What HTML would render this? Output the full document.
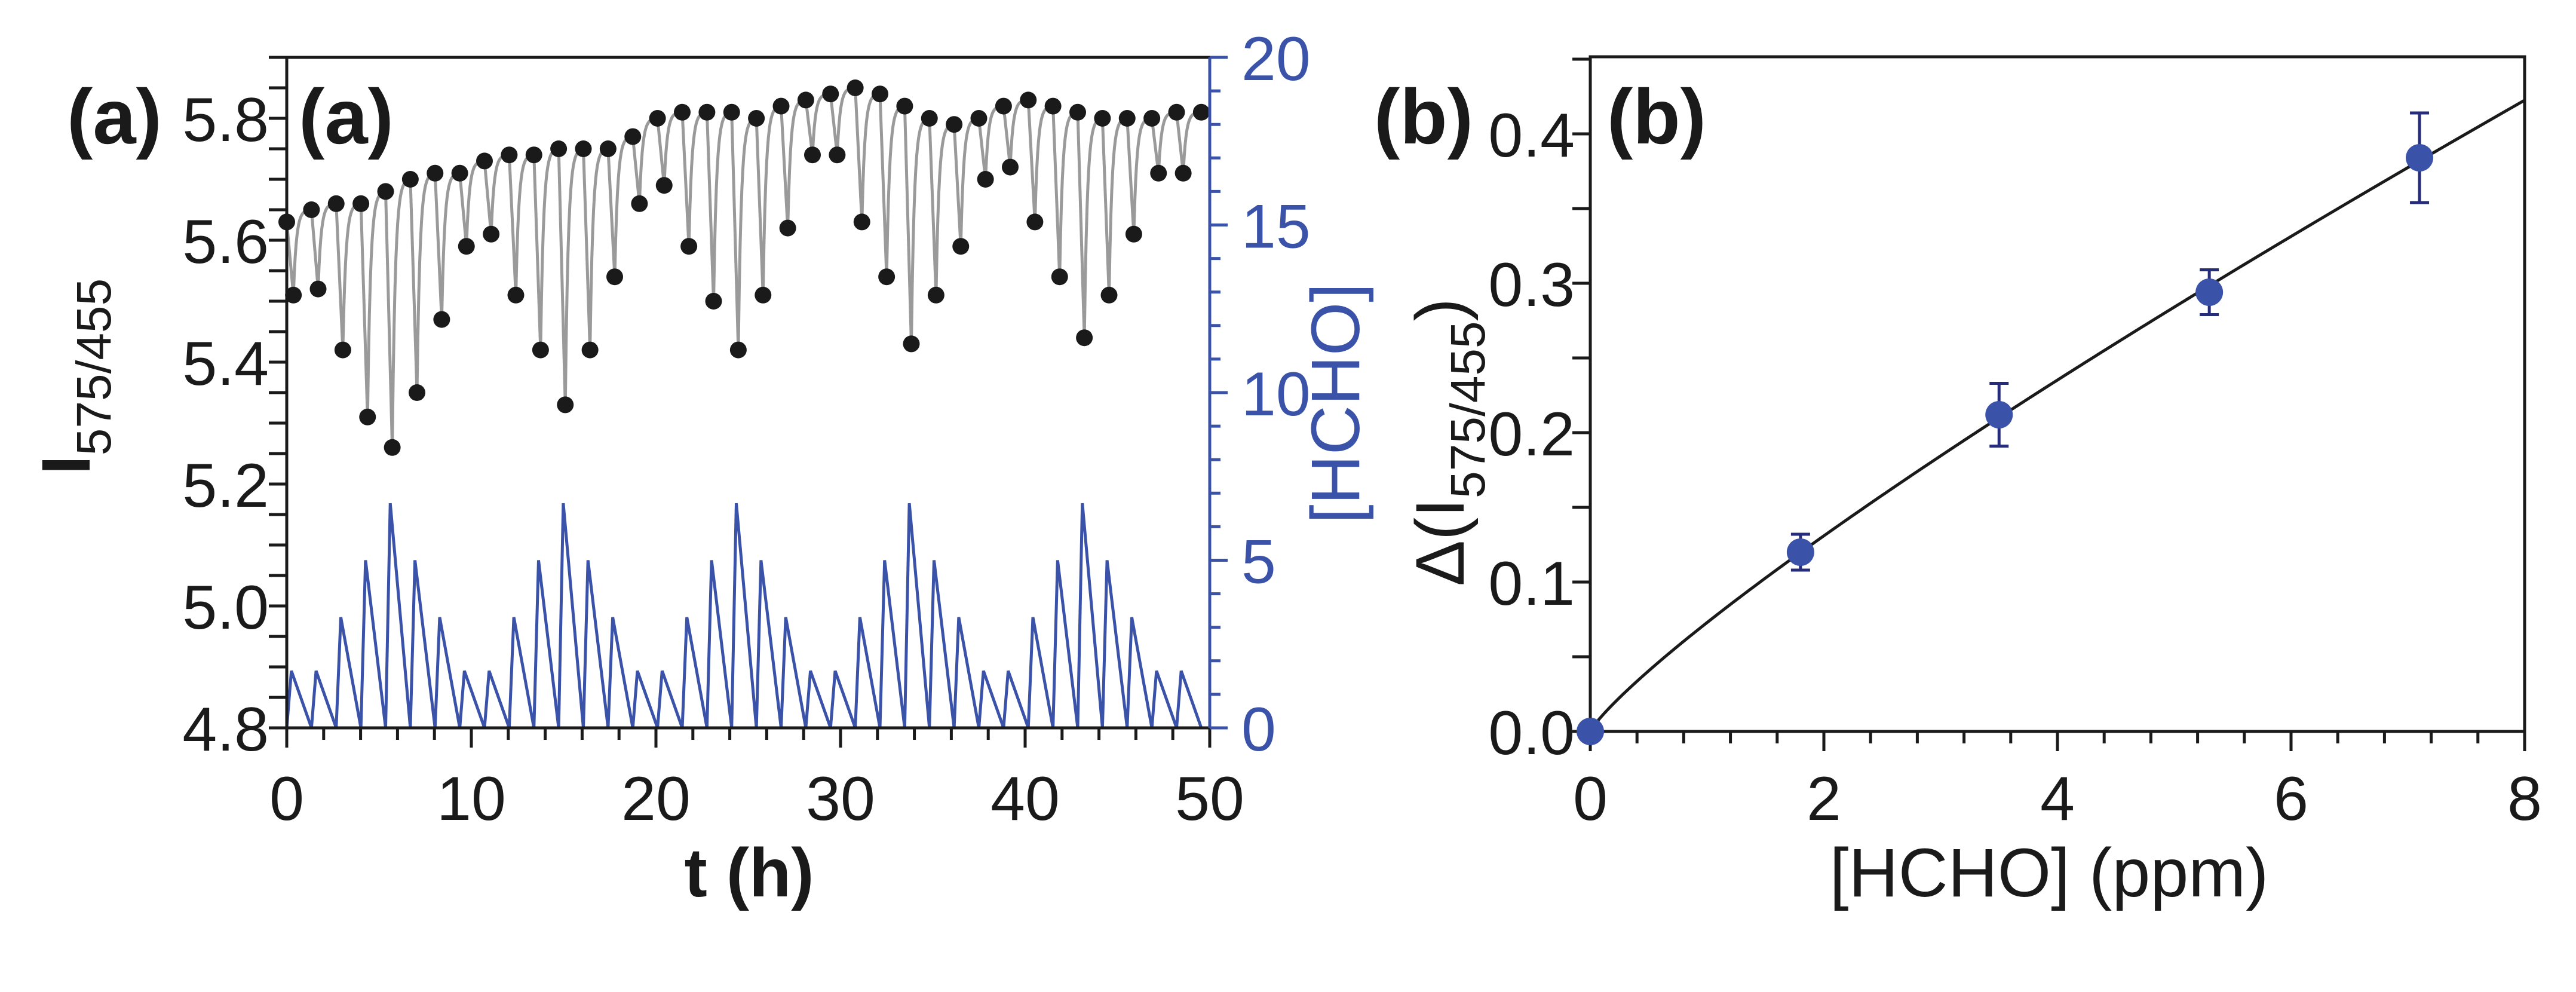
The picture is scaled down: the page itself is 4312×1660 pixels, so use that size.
<!DOCTYPE html>
<html><head><meta charset="utf-8"><style>
html,body{margin:0;padding:0;background:#fff}
svg{display:block}
text{font-family:"Liberation Sans",sans-serif}
</style></head><body>
<svg id="fig" width="4312" height="1660" viewBox="0 0 4312 1660" xmlns="http://www.w3.org/2000/svg">
<g id="pa"></g>
<g id="pb"></g>
</svg>
<script>
// ---- Panel (a) data ----
const cycleHours = [1.339];
const hchoPeaks = [1.7,1.7,3.3,5,6.7,5,3.3,1.7,1.7,3.3,5,6.7,5,3.3,1.7,1.7,3.3,5,6.7,5,3.3,1.7,1.7,3.3,5,6.7,5,3.3,1.7,1.7,3.3,5,6.7,5,3.3,1.7,1.7];
const topValues = [5.63,5.65,5.66,5.66,5.68,5.70,5.71,5.71,5.73,5.74,5.74,5.75,5.75,5.75,5.77,5.80,5.81,5.81,5.81,5.80,5.82,5.83,5.84,5.85,5.84,5.82,5.80,5.79,5.80,5.82,5.83,5.82,5.81,5.80,5.80,5.80,5.81,5.81];
const lowValues = [5.51,5.52,5.42,5.31,5.26,5.35,5.47,5.59,5.61,5.51,5.42,5.33,5.42,5.54,5.66,5.69,5.59,5.50,5.42,5.51,5.62,5.74,5.74,5.63,5.54,5.43,5.51,5.59,5.70,5.72,5.63,5.54,5.44,5.51,5.61,5.71,5.71];
const aXTicks = [0,10,20,30,40,50];
const aYTicks = ["4.8","5.0","5.2","5.4","5.6","5.8"];
const aY2Ticks = [0,5,10,15,20];
// ---- Panel (b) data ----
const bX = [0,1.8,3.5,5.3,7.1];
const bY = [0,0.120,0.212,0.294,0.384];
const bErr = [0,0.012,0.021,0.015,0.030];
const fitParams = [0.0729,0.845];
const bXTicks = [0,2,4,6,8];
const bYTicks = ["0.0","0.1","0.2","0.3","0.4"];

const NS="http://www.w3.org/2000/svg";
function mk(parent,tag,attrs,txt){const e=document.createElementNS(NS,tag);for(const k in attrs)e.setAttribute(k,attrs[k]);if(txt!==undefined)e.textContent=txt;parent.appendChild(e);return e;}

// ===== Panel A =====
const pa=document.getElementById('pa');
const AL=480,AR=2025,AT=96,AB=1218;
const ax=t=>AL+(t-0)/(50-0)*(AR-AL);
const ay=v=>AB-(v-4.8)/(5.9-4.8)*(AB-AT);
const ay2=v=>AB-(v/20)*(AB-AT);

let d=`M${ax(0)},${ay2(0)}`;
const T=cycleHours[0];
hchoPeaks.forEach((p,i)=>{const s=i*T;d+=` L${ax(s+0.25)},${ay2(p)} L${ax(s+T)},${ay2(0)}`;});
let hl=mk(pa,'path',{d:d,fill:'none',stroke:'#3a52a8','stroke-width':5,'stroke-linejoin':'miter'});



let g=`M${ax(0)},${ay(topValues[0])}`;
lowValues.forEach((lv,i)=>{
  const s=i*T, tl=s+0.36, nt=topValues[i+1];
  g+=` L${ax(tl)},${ay(lv)}`;
  const n=20;
  for(let k=1;k<=n;k++){const f=k/n;const tt=tl+(s+T-tl)*f;const r=1-Math.exp(-6*f);const rn=r/(1-Math.exp(-6));const v=lv+(nt-lv)*rn;g+=` L${ax(tt)},${ay(v)}`;}
});
let gl=mk(pa,'path',{d:g,fill:'none',stroke:'#9a9a9a','stroke-width':5});



topValues.forEach((v,i)=>{const c=mk(pa,'circle',{cx:ax(i*T),cy:ay(v),r:14,fill:'#1a1a1a'});

});
lowValues.forEach((v,i)=>{const c=mk(pa,'circle',{cx:ax(i*T+0.36),cy:ay(v),r:14,fill:'#1a1a1a'});

});

mk(pa,'rect',{x:AL,y:AT,width:AR-AL,height:AB-AT,fill:'none',stroke:'#1a1a1a','stroke-width':5});
mk(pa,'line',{x1:AR,y1:AT,x2:AR,y2:AB,stroke:'#3a52a8','stroke-width':5});
for(let t=0;t<=50;t+=2){mk(pa,'line',{x1:ax(t),y1:AB,x2:ax(t),y2:AB+20,stroke:'#1a1a1a','stroke-width':5});}
aXTicks.forEach(t=>{mk(pa,'line',{x1:ax(t),y1:AB,x2:ax(t),y2:AB+33,stroke:'#1a1a1a','stroke-width':5});
const tx=mk(pa,'text',{x:ax(t),y:1372,'font-size':104,'text-anchor':'middle',fill:'#1a1a1a'},String(t));

});
for(let k=0;k<=22;k++){const v=4.8+k*0.05;mk(pa,'line',{x1:AL-30,y1:ay(v),x2:AL,y2:ay(v),stroke:'#1a1a1a','stroke-width':5});}
aYTicks.forEach(s=>{const tx=mk(pa,'text',{x:450,y:ay(+s)+38,'font-size':104,'text-anchor':'end',fill:'#1a1a1a'},s);

});
for(let k=0;k<=20;k++){mk(pa,'line',{x1:AR,y1:ay2(k),x2:AR+18,y2:ay2(k),stroke:'#3a52a8','stroke-width':5});}
aY2Ticks.forEach(v=>{mk(pa,'line',{x1:AR,y1:ay2(v),x2:AR+30,y2:ay2(v),stroke:'#3a52a8','stroke-width':5});
const tx=mk(pa,'text',{x:2078,y:ay2(v)+38,'font-size':104,fill:'#3a52a8'},String(v));

});
let xt=mk(pa,'text',{x:1254,y:1500,'font-size':115,'font-weight':'bold','text-anchor':'middle',fill:'#1a1a1a'},'t (h)');

let yt=mk(pa,'text',{transform:'translate(150,630) rotate(-90)','font-size':115,'font-weight':'bold','text-anchor':'middle',fill:'#1a1a1a'});

mk(yt,'tspan',{},'I');mk(yt,'tspan',{'font-size':82,dy:35,'font-weight':'normal'},'575/455');
let y2t=mk(pa,'text',{transform:'translate(2275,675) rotate(-90)','font-size':115,'text-anchor':'middle',fill:'#3a52a8'},'[HCHO]');

let la1=mk(pa,'text',{x:112,y:240,'font-size':130,'font-weight':'bold',fill:'#1a1a1a'},'(a)');

let la2=mk(pa,'text',{x:500,y:240,'font-size':130,'font-weight':'bold',fill:'#1a1a1a'},'(a)');


// ===== Panel B =====
const pb=document.getElementById('pb');
const BL=2662,BR=4226,BT=95,BB=1224;
const bx=v=>BL+v/8*(BR-BL);
const by=v=>BB-v/0.4516*(BB-BT);
mk(pb,'rect',{x:BL,y:BT,width:BR-BL,height:BB-BT,fill:'none',stroke:'#1a1a1a','stroke-width':5});
for(let k=0;k<=20;k++){const v=k*0.4;mk(pb,'line',{x1:bx(v),y1:BB,x2:bx(v),y2:BB+20,stroke:'#1a1a1a','stroke-width':5});}
bXTicks.forEach(v=>{mk(pb,'line',{x1:bx(v),y1:BB,x2:bx(v),y2:BB+33,stroke:'#1a1a1a','stroke-width':5});
const tx=mk(pb,'text',{x:bx(v),y:1372,'font-size':104,'text-anchor':'middle',fill:'#1a1a1a'},String(v));

});
for(let k=0;k<=9;k++){const v=k*0.05;mk(pb,'line',{x1:BL-30,y1:by(v),x2:BL,y2:by(v),stroke:'#1a1a1a','stroke-width':5});}
bYTicks.forEach(s=>{const tx=mk(pb,'text',{x:2636,y:by(+s)+38,'font-size':104,'text-anchor':'end',fill:'#1a1a1a'},s);

});
let fd='';for(let k=0;k<=200;k++){const x=k/200*8;const y=fitParams[0]*Math.pow(x,fitParams[1]);fd+=(k?' L':'M')+bx(x)+','+by(y);}
let fl=mk(pb,'path',{d:fd,fill:'none',stroke:'#1a1a1a','stroke-width':5});

bX.forEach((x,i)=>{
  if(bErr[i]>0){const cx=bx(x),y1=by(bY[i]+bErr[i]),y2=by(bY[i]-bErr[i]);
    const eb=mk(pb,'path',{d:`M${cx},${y1} L${cx},${y2} M${cx-16},${y1} L${cx+16},${y1} M${cx-16},${y2} L${cx+16},${y2}`,stroke:'#272c7a','stroke-width':5,fill:'none'});
    
    }
  const c=mk(pb,'circle',{cx:bx(x),cy:by(bY[i]),r:23,fill:'#3a52a8'});
  
  
});
let bxt=mk(pb,'text',{x:3430,y:1500,'font-size':115,'text-anchor':'middle',fill:'#1a1a1a'},'[HCHO] (ppm)');

let byt=mk(pb,'text',{transform:'translate(2450,740) rotate(-90)','font-size':115,'text-anchor':'middle',fill:'#1a1a1a'});

mk(byt,'tspan',{},'Δ(I');mk(byt,'tspan',{'font-size':82,dy:35},'575/455');mk(byt,'tspan',{dy:-35},')');
let lb1=mk(pb,'text',{x:2300,y:240,'font-size':130,'font-weight':'bold',fill:'#1a1a1a'},'(b)');

let lb2=mk(pb,'text',{x:2690,y:240,'font-size':130,'font-weight':'bold',fill:'#1a1a1a'},'(b)');

</script>
</body></html>
